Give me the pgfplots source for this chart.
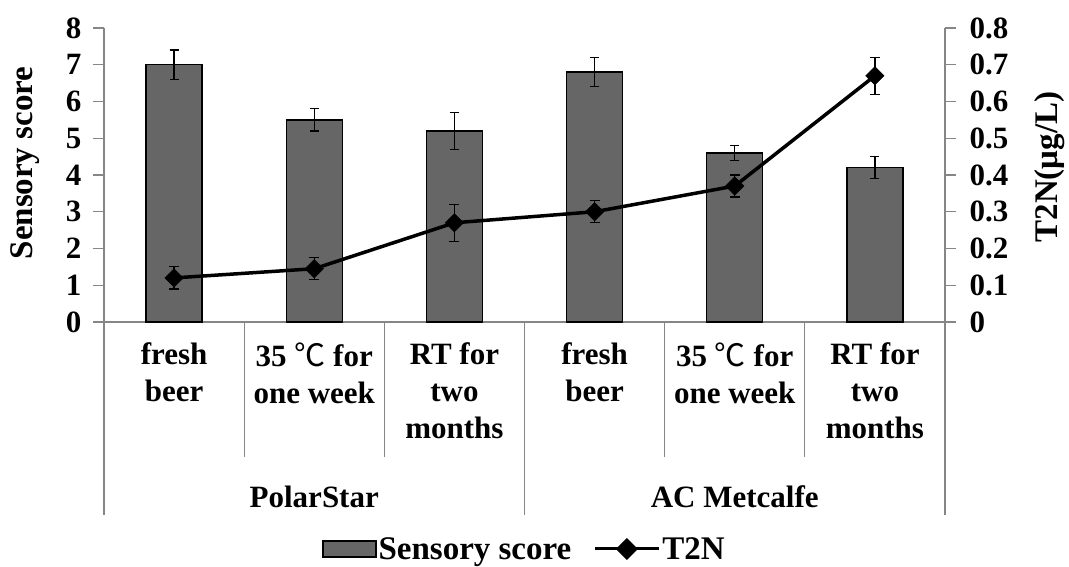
\documentclass[border=0pt]{standalone}
\usepackage{pgfplots}
\pgfplotsset{compat=1.18}
\usepackage{fontspec}
\setmainfont{Liberation Serif}
\newfontfamily\cjk{Noto Sans CJK SC}
\definecolor{barfill}{RGB}{102,102,102}
\definecolor{axgray}{RGB}{134,134,134}
\newcommand\bigfont{\fontsize{31}{37}\selectfont\bfseries}
\newcommand\labfont{\fontsize{33}{39}\selectfont\bfseries}
\newcommand\degc{{\cjk\mdseries ℃}}
\begin{document}
\begin{tikzpicture}
\path[use as bounding box] (0pt,0pt) rectangle (1069pt,566pt);
\begin{axis}[
  at={(104pt,244pt)}, anchor=south west,
  width=841pt, height=294pt, scale only axis,
  xmin=0.5, xmax=6.5, ymin=0, ymax=8,
  axis y line*=left, axis x line*=bottom,
  axis line style={axgray, line width=1.2pt, -},
  ytick={0,1,2,3,4,5,6,7,8},
  xtick={1,2,3,4,5,6},
  xticklabels={{fresh\\beer}, {35 \degc{} for\\one week}, {RT for\\two\\months}, {fresh\\beer}, {35 \degc{} for\\one week}, {RT for\\two\\months}},
  xticklabel style={align=center, anchor=north, yshift=-6pt},
  yticklabel style={xshift=-8pt},
  x tick style={draw=none},
  y tick style={axgray, line width=1.2pt},
  tick align=outside, major tick length=11pt,
  tick label style={font=\bigfont},
  /pgf/number format/assume math mode=true,
  ylabel={Sensory score},
  ylabel style={font=\labfont, at={(axis description cs:-0.094,0.541)}, anchor=center},
  clip=false,
]
\addplot[ybar, bar width=0.4, fill=barfill, draw=black, line width=1.3pt,
  error bars/.cd, y dir=both, y explicit,
  error bar style={black, line width=1.2pt},
  error mark options={rotate=90, black, line width=1.2pt, mark size=4.5pt}]
  coordinates {(1,7.0) +- (0,0.4) (2,5.5) +- (0,0.3) (3,5.2) +- (0,0.5)
               (4,6.8) +- (0,0.4) (5,4.6) +- (0,0.2) (6,4.2) +- (0,0.3)};
\draw[axgray, line width=1.2pt] (axis cs:0.5,0) -- ++(0pt,-193pt);
\draw[axgray, line width=1.2pt] (axis cs:3.5,0) -- ++(0pt,-193pt);
\draw[axgray, line width=1.2pt] (axis cs:6.5,0) -- ++(0pt,-193pt);
\draw[axgray, line width=1.2pt] (axis cs:1.5,0) -- ++(0pt,-135pt);
\draw[axgray, line width=1.2pt] (axis cs:2.5,0) -- ++(0pt,-135pt);
\draw[axgray, line width=1.2pt] (axis cs:4.5,0) -- ++(0pt,-135pt);
\draw[axgray, line width=1.2pt] (axis cs:5.5,0) -- ++(0pt,-135pt);
\node[font=\bigfont, anchor=base] at ([yshift=-185pt]axis cs:2,0) {PolarStar};
\node[font=\bigfont, anchor=base] at ([yshift=-185pt]axis cs:5,0) {AC Metcalfe};
\end{axis}
\begin{axis}[
  at={(104pt,244pt)}, anchor=south west,
  width=841pt, height=294pt, scale only axis,
  xmin=0.5, xmax=6.5, ymin=0, ymax=0.8,
  axis y line*=right, axis x line=none,
  axis line style={axgray, line width=1.2pt, -},
  ytick={0,0.1,0.2,0.3,0.4,0.5,0.6,0.7,0.8},
  yticklabels={0,0.1,0.2,0.3,0.4,0.5,0.6,0.7,0.8},
  yticklabel style={xshift=10pt},
  y tick style={axgray, line width=1.2pt},
  tick align=outside, major tick length=11pt,
  tick label style={font=\bigfont},
  ylabel={T2N(μg/L)},
  ylabel style={font=\labfont, at={(axis description cs:1.125,0.527)}, anchor=center},
  clip=false,
  legend style={at={(0.5,-0.772)}, anchor=center, legend columns=2, draw=none, fill=none,
    font=\labfont, inner sep=0pt, /tikz/every even column/.append style={column sep=20pt}},
  legend cell align=left,
]
\addlegendimage{legend image code/.code={\draw[fill=barfill, draw=black, line width=1.3pt] (0pt,-8pt) rectangle (53pt,8pt);}}
\addlegendentry{Sensory score}
\addplot[black, line width=3.5pt, mark=square*, mark size=6.5pt,
  mark options={rotate=45, solid, line width=0.5pt},
  legend image code/.code={\draw[black, line width=3pt] (0pt,0pt) -- (64pt,0pt);
     \fill[black, rotate around={45:(32pt,0pt)}] (26pt,-6pt) rectangle (38pt,6pt);},
  error bars/.cd, y dir=both, y explicit,
  error bar style={black, line width=1.2pt},
  error mark options={rotate=90, black, line width=1.2pt, mark size=5pt}]
  coordinates {(1,0.12) +- (0,0.03) (2,0.145) +- (0,0.03) (3,0.27) +- (0,0.05)
               (4,0.30) +- (0,0.03) (5,0.37) +- (0,0.03) (6,0.67) +- (0,0.05)};
\addlegendentry{T2N}
\end{axis}
\end{tikzpicture}
\end{document}
